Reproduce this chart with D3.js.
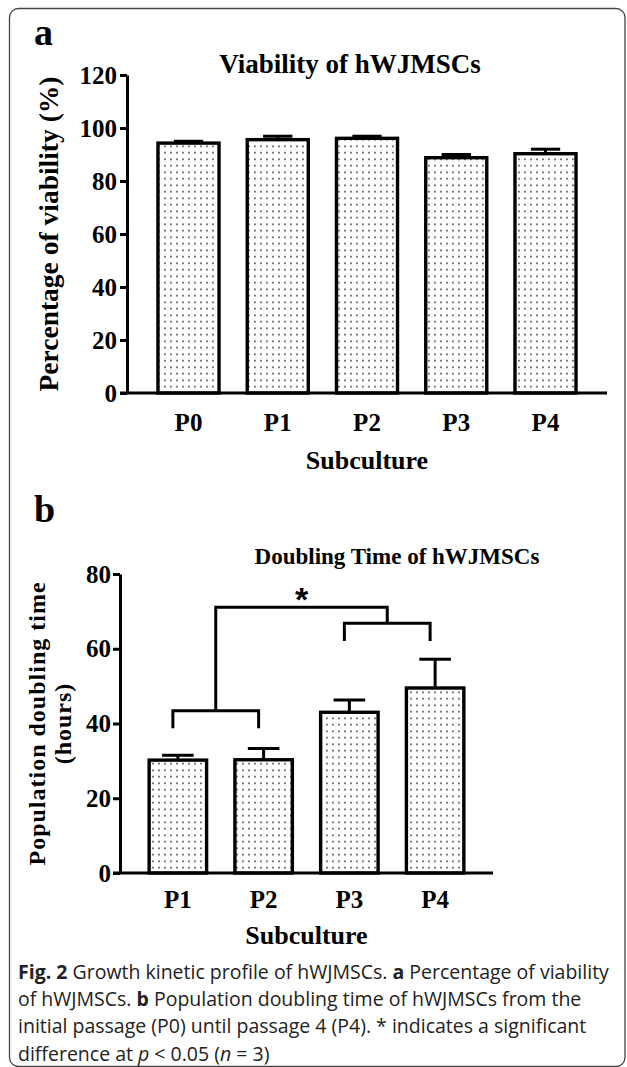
<!DOCTYPE html>
<html lang="en">
<head>
  <meta charset="UTF-8">
  <title>Growth kinetic profile of hWJMSCs</title>
  <script src="https://d3js.org/d3.v7.min.js"></script>
  <style>
    body { margin: 0; background: #fff; }
    svg { display: block; }
    .serif { font-family: "Liberation Serif", "Times New Roman", serif; font-weight: bold; fill: #000; }
    .caption { font-family: "Open Sans", "Noto Sans", sans-serif; font-size: 19.5px; fill: #222; }
  </style>
</head>
<body>
  <svg id="fig" width="627" height="1067"></svg>

  <script>
    // panel a: viability per passage
    const passagesA = ["P0", "P1", "P2", "P3", "P4"];
    const viability = [94.3, 95.6, 96.1, 88.8, 90.3];
    const viabilityErr = [0.7, 1.3, 0.8, 1.2, 1.7];
    const ticksA = [0, 20, 40, 60, 80, 100, 120];

    // panel b: population doubling time (hours)
    const passagesB = ["P1", "P2", "P3", "P4"];
    const doubling = [30.2, 30.3, 43.0, 49.5];
    const doublingErr = [1.3, 3.0, 3.3, 7.7];
    const ticksB = [0, 20, 40, 60, 80];

    // significance brackets in panel b (y in hours)
    const groups = [
      { from: "P1", to: "P2", level: 43.4, leg: 38.7 },
      { from: "P3", to: "P4", level: 66.8, leg: 62.1 }
    ];
    const topLevel = 71.1;
    const starLevel = 75;

    const captionLines = [
      [["Fig. 2", true], [" Growth kinetic profile of hWJMSCs. ", false], ["a", true], [" Percentage of viability", false]],
      [["of hWJMSCs. ", false], ["b", true], [" Population doubling time of hWJMSCs from the", false]],
      [["initial passage (P0) until passage 4 (P4). * indicates a significant", false]],
      [["difference at ", false], ["p", false, true], [" < 0.05 (", false], ["n", false, true], [" = 3)", false]]
    ];

    const svg = d3.select("#fig");

    // outer frame
    svg.append("rect")
      .attr("x", 9.5).attr("y", 8.5)
      .attr("width", 615.5).attr("height", 1058)
      .attr("rx", 9)
      .attr("fill", "none").attr("stroke", "#444").attr("stroke-width", 1.3);

    // dot fill
    const pat = svg.append("defs").append("pattern")
      .attr("id", "dots").attr("patternUnits", "userSpaceOnUse")
      .attr("width", 6).attr("height", 6.5);
    pat.append("rect").attr("width", 6).attr("height", 6.5).attr("fill", "#fff");
    pat.append("rect").attr("x", 2.2).attr("y", 2.5).attr("width", 1.5).attr("height", 1.5).attr("fill", "#222");

    function drawPanel(p) {
      const g = svg.append("g");
      const x = d3.scaleBand().domain(p.cats).range([p.left, p.right])
        .paddingInner(p.padIn).paddingOuter(p.padOut);
      const y = d3.scaleLinear().domain([0, p.max]).range([p.bottom, p.top]);
      const bw = x.bandwidth();

      // bars
      g.selectAll("rect.bar").data(p.cats).join("rect")
        .attr("class", "bar")
        .attr("x", d => x(d))
        .attr("y", (d, i) => y(p.values[i]))
        .attr("width", bw)
        .attr("height", (d, i) => y(0) - y(p.values[i]))
        .attr("fill", "url(#dots)")
        .attr("stroke", "#000").attr("stroke-width", 3.4);

      // error bars (upper only)
      const cap = bw * p.capFrac / 2;
      p.cats.forEach((c, i) => {
        const cx = x(c) + bw / 2;
        const y0 = y(p.values[i]), y1 = y(p.values[i] + p.errs[i]);
        g.append("line").attr("x1", cx).attr("x2", cx).attr("y1", y0).attr("y2", y1)
          .attr("stroke", "#000").attr("stroke-width", 3);
        g.append("line").attr("x1", cx - cap).attr("x2", cx + cap).attr("y1", y1).attr("y2", y1)
          .attr("stroke", "#000").attr("stroke-width", 3);
      });

      // y axis
      const ya = g.append("g").attr("transform", `translate(${p.left},0)`)
        .call(d3.axisLeft(y).tickValues(p.ticks).tickSize(7).tickSizeOuter(0).tickPadding(p.tickPad));
      ya.select(".domain").attr("stroke-width", 3);
      ya.selectAll(".tick line").attr("stroke-width", 3);
      ya.selectAll(".tick text").attr("class", "serif").style("font-size", "25px");

      // x axis
      g.append("line")
        .attr("x1", p.left - 7).attr("x2", p.right)
        .attr("y1", y(0)).attr("y2", y(0))
        .attr("stroke", "#000").attr("stroke-width", 3);
      const xa = g.append("g").attr("transform", `translate(0,${y(0)})`)
        .call(d3.axisBottom(x).tickSize(0).tickPadding(p.labelPad));
      xa.select(".domain").remove();
      xa.selectAll(".tick text").attr("class", "serif").style("font-size", "25px");

      g.append("text").attr("class", "serif")
        .attr("x", (p.left + p.right) / 2).attr("y", p.xTitleY)
        .attr("text-anchor", "middle").style("font-size", "26px")
        .text("Subculture");

      // panel letter and title
      g.append("text").attr("class", "serif")
        .attr("x", 34).attr("y", p.letterY).style("font-size", "38px").text(p.letter);
      g.append("text").attr("class", "serif")
        .attr("x", p.titleX).attr("y", p.titleY)
        .attr("text-anchor", "middle").style("font-size", p.titleSize + "px")
        .text(p.title);

      // y axis title
      const cy = (p.top + p.bottom) / 2;
      p.yTitle.forEach((t, k) => {
        g.append("text").attr("class", "serif")
          .attr("transform", `translate(${p.yTitleX[k]},${cy}) rotate(-90)`)
          .attr("text-anchor", "middle").attr("dy", "0.35em")
          .style("font-size", p.yTitleSize + "px")
          .style("letter-spacing", p.yTitleSpacing + "px")
          .text(t);
      });

      return { x, y, bw, g };
    }

    drawPanel({
      cats: passagesA, values: viability, errs: viabilityErr, ticks: ticksA, max: 120,
      left: 127, right: 607, top: 75, bottom: 393, padIn: 0.316, padOut: 0.347,
      capFrac: 0.48, tickPad: 3, labelPad: 20, xTitleY: 469,
      letter: "a", letterY: 45, title: "Viability of hWJMSCs", titleX: 350, titleY: 73, titleSize: 27,
      yTitle: ["Percentage of viability (%)"], yTitleX: [48], yTitleSize: 27.5, yTitleSpacing: 0
    });

    const b = drawPanel({
      cats: passagesB, values: doubling, errs: doublingErr, ticks: ticksB, max: 80,
      left: 120, right: 493, top: 574, bottom: 873, padIn: 0.33, padOut: 0.34,
      capFrac: 0.55, tickPad: 2, labelPad: 17, xTitleY: 944,
      letter: "b", letterY: 522, title: "Doubling Time of hWJMSCs", titleX: 397, titleY: 564, titleSize: 23,
      yTitle: ["Population doubling time", "(hours)"], yTitleX: [37, 63], yTitleSize: 24, yTitleSpacing: 1
    });

    // significance brackets
    const mid = c => b.x(c) + b.bw / 2 - 5;
    const stems = [];
    groups.forEach(gr => {
      const xa = mid(gr.from), xb = mid(gr.to), ly = b.y(gr.level), lg = b.y(gr.leg);
      b.g.append("path")
        .attr("d", `M${xa},${lg}V${ly}H${xb}V${lg}`)
        .attr("fill", "none").attr("stroke", "#000").attr("stroke-width", 3);
      stems.push({ x: (xa + xb) / 2, y: ly });
    });
    const ty = b.y(topLevel);
    b.g.append("path")
      .attr("d", `M${stems[0].x},${stems[0].y}V${ty}H${stems[1].x}V${stems[1].y}`)
      .attr("fill", "none").attr("stroke", "#000").attr("stroke-width", 3);
    b.g.append("text")
      .attr("x", (stems[0].x + stems[1].x) / 2).attr("y", b.y(starLevel) + 18)
      .attr("text-anchor", "middle")
      .style("font-family", "'Liberation Sans', Arial, sans-serif").style("font-weight", "bold")
      .style("font-size", "34px").text("*");

    // caption
    const cap = svg.append("text").attr("class", "caption");
    captionLines.forEach((line, k) => {
      line.forEach((seg, j) => {
        const ts = cap.append("tspan").text(seg[0]);
        if (j === 0) ts.attr("x", 18).attr("y", 979 + k * 27.2);
        if (seg[1]) ts.style("font-weight", "bold");
        if (seg[2]) ts.style("font-style", "italic");
      });
    });
  </script>
</body>
</html>
